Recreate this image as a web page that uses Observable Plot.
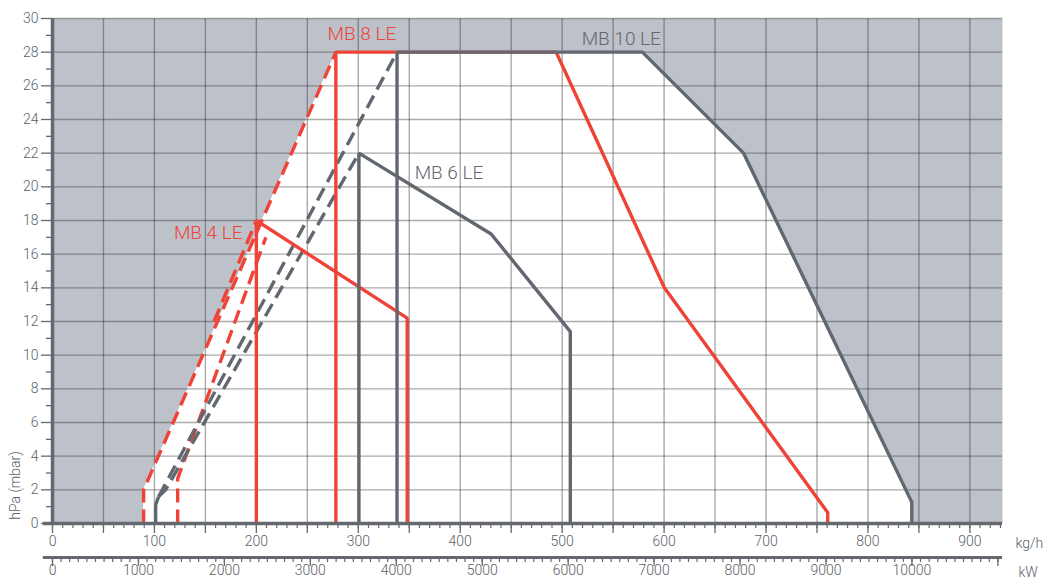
<!DOCTYPE html>
<html><head><meta charset="utf-8">
<script src="https://cdn.jsdelivr.net/npm/d3@7"></script>
<script src="https://cdn.jsdelivr.net/npm/@observablehq/plot@0.6"></script>
<style>
body{margin:0;background:#fff;}
#chart{width:1044px;height:579px;}
svg{font-family:Roboto,"Liberation Sans",sans-serif;}
</style></head><body><div id="chart"></div>
<script>
// ---- data (x in kg/h, y in hPa/mbar) ----
const KW_PER_KG = 11.86;               // kW per kg/h (secondary axis)
const yTicksMajor = [0,2,4,6,8,10,12,14,16,18,20,22,24,26,28,30];
const kgLabels = [0,100,200,300,400,500,600,700,800,900];
const kwLabels = [0,1000,2000,3000,4000,5000,6000,7000,8000,9000,10000];

// operating envelope (white area)
const envelopeX = [89.4, 89.4, 278, 578.7, 678, 843, 843];
const envelopeY = [0, 2, 28, 28, 22, 1.27, 0];

// burner curves
const mb4Solid   = [[200,0],[200,18],[348,12.2],[348,0]];
const mb4Dash    = [[158.5,12],[200,18]];
const mb4Dash2   = [[122.8,0],[122.8,2.67],[209.3,17.0]];
const mb8Solid   = [[278,0],[278,28],[494.2,28],[600.3,14],[760.5,0.65],[760.5,0]];
const mb8Dash    = [[89.4,0],[89.4,2],[278,28]];
const mb6Solid   = [[300.6,0],[300.6,22],[430.3,17.2],[508,11.4],[508,0]];
const mb6Dash    = [[104.1,1.6],[111,2.0],[300.6,22]];
const mb10Solid  = [[338,0],[338,28],[578.7,28],[678,22],[843,1.27],[843,0]];
const mb10Dash   = [[104.1,1.6],[338,28]];
const mb10Start  = [[101.2,0],[101.2,1.1],[104.1,1.6]];

const seriesNames = ["MB 4 LE","MB 6 LE","MB 8 LE","MB 10 LE"];
const labelX = [152.8, 389, 303.6, 558];
const labelY = [17.25, 20.85, 29.1, 28.8];

// ---- styling ----
const RED = "#ef4338", GRAY = "#626870", BG = "#bdc1c9", AX = "#65696f", TXT = "#5c6068";

const segs = [
  {id:"mb4s", c:RED, d:false, pts:mb4Solid},
  {id:"mb4d", c:RED, d:true, pts:mb4Dash},
  {id:"mb4d2", c:RED, d:true, pts:mb4Dash2},
  {id:"mb8s", c:RED, d:false, pts:mb8Solid},
  {id:"mb8d", c:RED, d:true, pts:mb8Dash},
  {id:"mb6s", c:GRAY, d:false, pts:mb6Solid},
  {id:"mb6d", c:GRAY, d:true, pts:mb6Dash},
  {id:"mb10s", c:GRAY, d:false, pts:mb10Solid},
  {id:"mb10d", c:GRAY, d:true, pts:mb10Dash},
  {id:"mb10st", c:GRAY, d:false, pts:mb10Start}
];
const rows = segs.flatMap(s => s.pts.map(([x,y]) => ({id:s.id, c:s.c, d:s.d, x, y})));
const envelope = envelopeX.map((x,i) => ({x, y: envelopeY[i]}));
const labels = seriesNames.map((n,i) => ({n, x: labelX[i], y: labelY[i], c: (n==="MB 4 LE"||n==="MB 8 LE") ? RED : GRAY}));

const gridKg = d3.range(50, 931, 50);
const gridY = yTicksMajor;
const kgMinor = d3.range(0, 931, 10);
const kgMajor = d3.range(0, 931, 50);
const kwMinor = d3.range(0, 11001, 100).map(k => k / KW_PER_KG);
const kwMajor = d3.range(0, 11001, 1000).map(k => k / KW_PER_KG);
const yMinor = d3.range(1, 30, 2);
const KW_DY = 34;

const chart = Plot.plot({
  width: 1044, height: 579,
  marginLeft: 52, marginRight: 42, marginTop: 18, marginBottom: 56,
  x: {domain: [0, 932]},
  y: {domain: [0, 30]},
  style: {fontFamily: "Roboto, 'Liberation Sans', sans-serif", background: "white", fontWeight: 300},
  marks: [
    Plot.frame({fill: BG, stroke: null}),
    Plot.areaY(envelope, {x: "x", y: "y", fill: "white", curve: "linear"}),
    Plot.ruleX(gridKg, {stroke: "#2a2a2a", strokeOpacity: 0.4, strokeWidth: 1.4}),
    Plot.ruleY(gridY, {stroke: "#2a2a2a", strokeOpacity: 0.4, strokeWidth: 1.4}),
    Plot.line(rows.filter(r => r.d), {x: "x", y: "y", z: "id", stroke: "c", strokeWidth: 3.4, strokeDasharray: "14,7", strokeLinejoin: "miter", strokeLinecap: "butt"}),
    Plot.line(rows.filter(r => !r.d), {x: "x", y: "y", z: "id", stroke: "c", strokeWidth: 3.4, strokeLinejoin: "miter", strokeLinecap: "butt"}),
    // y axis
    Plot.ruleX([0], {stroke: AX, strokeWidth: 3.5}),
    Plot.axisY({ticks: yTicksMajor, tickSize: 11, tickPadding: 3, fontSize: 14, stroke: AX, fill: TXT, strokeWidth: 1.3, label: null}),
    Plot.axisY({ticks: yMinor, tickSize: 6, tickFormat: () => "", stroke: AX, strokeWidth: 1.3, label: null}),
    // kg/h axis
    Plot.ruleY([0], {x1: -9, x2: 932, stroke: AX, strokeWidth: 3.5}),
    Plot.axisX({ticks: kgMinor, tickSize: 5, tickFormat: () => "", stroke: AX, strokeWidth: 1.2, label: null}),
    Plot.axisX({ticks: kgMajor, tickSize: 10, tickFormat: () => "", stroke: AX, strokeWidth: 1.3, label: null}),
    Plot.axisX({ticks: kgLabels, tickSize: 0, tickPadding: 13, fontSize: 14, fill: TXT, label: null}),
    Plot.text(["kg/h"], {x: 932, y: 0, dx: 13, dy: 20, text: d => d, textAnchor: "start", fontSize: 14, fill: TXT}),
    // kW axis
    Plot.ruleY([0], {x1: -9, x2: 932, dy: KW_DY, stroke: AX, strokeWidth: 3.2}),
    Plot.axisX({ticks: kwMinor, tickSize: 5, tickFormat: () => "", stroke: AX, strokeWidth: 1.2, dy: KW_DY, label: null}),
    Plot.axisX({ticks: kwMajor, tickSize: 9, tickFormat: () => "", stroke: AX, strokeWidth: 1.3, dy: KW_DY, label: null}),
    Plot.axisX({ticks: kwLabels.map(k => k / KW_PER_KG), tickSize: 0, tickPadding: 8, fontSize: 14, fill: TXT, dy: KW_DY, label: null,
      tickFormat: d => String(Math.round(d * KW_PER_KG / 1000) * 1000)}),
    Plot.text(["kW"], {x: 932, y: 0, dx: 16, dy: 49, text: d => d, textAnchor: "start", fontSize: 14, fill: TXT}),
    // y label
    Plot.text(["hPa (mbar)"], {x: 0, y: 2.26, dx: -37, rotate: -90, text: d => d, textAnchor: "middle", fontSize: 14, fill: TXT}),
    // series labels
    Plot.text(labels, {x: "x", y: "y", text: "n", fill: "c", fontSize: 19, textAnchor: "middle"})
  ]
});
document.getElementById("chart").appendChild(chart);
</script>
</body></html>
